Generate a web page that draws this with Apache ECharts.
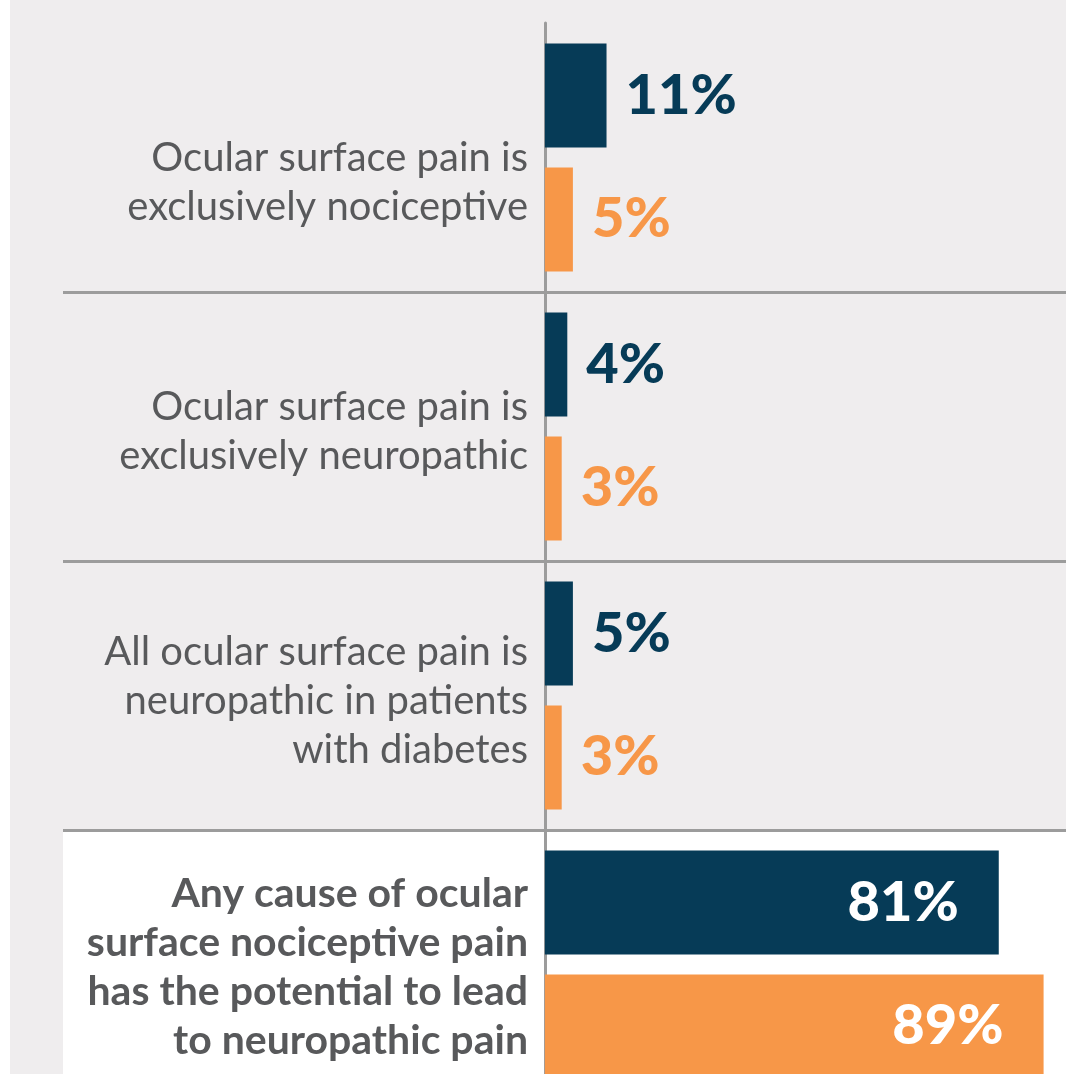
<!DOCTYPE html>
<html>
<head>
<meta charset="utf-8">
<script src="https://cdn.jsdelivr.net/npm/echarts@6/dist/echarts.min.js"></script>
<style>
  html, body { margin: 0; padding: 0; background: #ffffff; }
  #chart { position: absolute; left: 10px; top: 0; width: 1056px; height: 1074px; }
</style>
</head>
<body>
<div id="chart"></div>
<script>
// category labels, top to bottom
const categories = [
  'Ocular surface pain is\nexclusively nociceptive',
  'Ocular surface pain is\nexclusively neuropathic',
  'All ocular surface pain is\nneuropathic in patients\nwith diabetes',
  'Any cause of ocular\nsurface nociceptive pain\nhas the potential to lead\nto neuropathic pain'
];

// percent values
const navyValues = [11, 4, 5, 81];
const orangeValues = [5, 3, 3, 89];

const navy = '#063b57';
const orange = '#f79748';
const textGray = '#58595b';
const lineGray = '#9c9c9c';

// nudges the label blocks down inside their band
const labelPadTop = [50, 10, 11, 5];

// big bars get their label inside, in white
function toData(values, color) {
  return values.map(v => {
    if (v > 50) {
      return {
        value: v,
        label: { position: 'insideRight', distance: 40, color: '#ffffff' }
      };
    }
    return { value: v, label: { position: 'right', distance: 19, color: color } };
  });
}

const chart = echarts.init(document.getElementById('chart'));

const option = {
  backgroundColor: '#efedee',
  animation: false,
  grid: { left: 53, right: 0, top: 23, bottom: -25, outerBoundsMode: 'none' },
  xAxis: {
    type: 'value',
    min: -86,
    max: 93,
    show: false
  },
  yAxis: {
    type: 'category',
    inverse: true,
    data: categories.map((c, i) => ({
      value: c,
      textStyle: { padding: [labelPadTop[i], 0, 0, 0] }
    })),
    axisLine: { show: true, onZero: true, lineStyle: { color: lineGray, width: 3 } },
    axisTick: { show: false },
    axisLabel: {
      // labels sit left of the zero line, not the grid edge
      margin: -465,
      fontFamily: 'Lato',
      fontSize: 40,
      lineHeight: 49,
      color: textGray,
      align: 'right',
      formatter: function (val, idx) {
        if (idx === 3) {
          return val.split('\n').map(s => '{b|' + s + '}').join('\n');
        }
        return val;
      },
      rich: {
        b: { fontFamily: 'Lato', fontWeight: 'bold', fontSize: 41, lineHeight: 49, color: textGray }
      }
    },
    splitLine: {
      show: true,
      showMinLine: false,
      lineStyle: { color: lineGray, width: 3 }
    },
    splitArea: {
      show: true,
      areaStyle: { color: ['rgba(0,0,0,0)', 'rgba(0,0,0,0)', 'rgba(0,0,0,0)', '#ffffff'] }
    }
  },
  series: [
    {
      name: 'navy',
      type: 'bar',
      barWidth: 104,
      barGap: '19%',
      itemStyle: { color: navy },
      label: {
        show: true,
        formatter: '{c}%',
        fontFamily: 'Lato',
        fontWeight: 900,
        fontSize: 56
      },
      data: toData(navyValues, navy)
    },
    {
      name: 'orange',
      type: 'bar',
      barWidth: 104,
      barGap: '19%',
      itemStyle: { color: orange },
      label: {
        show: true,
        formatter: '{c}%',
        fontFamily: 'Lato',
        fontWeight: 900,
        fontSize: 56
      },
      data: toData(orangeValues, orange)
    }
  ]
};

chart.setOption(option);
</script>
</body>
</html>
